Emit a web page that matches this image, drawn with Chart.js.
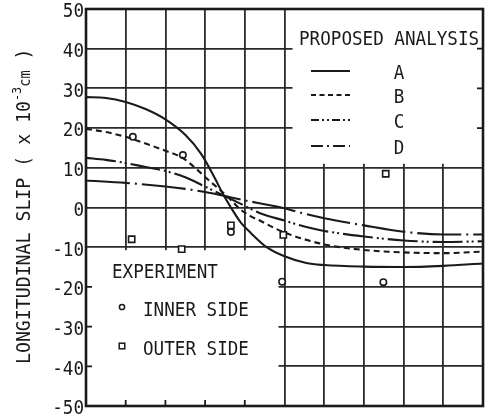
<!DOCTYPE html>
<html>
<head>
<meta charset="utf-8">
<script src="https://cdn.jsdelivr.net/npm/chart.js@4/dist/chart.umd.min.js"></script>
<style>
  html, body { margin: 0; padding: 0; background: #fff; }
  #wrap { width: 494px; height: 419px; }
</style>
</head>
<body>
<div id="wrap"><canvas id="c" width="494" height="419"></canvas></div>
<script>
// Longitudinal slip along the member: proposed analyses A-D and test results
const yTicks = ['50', '40', '30', '20', '10', '0', '-10', '-20', '-30', '-40', '-50'];
const xDivisions = [0, 1, 2, 3, 4, 5, 6, 7, 8, 9, 10];

const curveA = [[0,27.8],[0.5,27.6],[1,26.6],[1.5,24.8],[2,22.2],[2.5,18.3],[2.9,13.5],[3.25,7.3],[3.45,3.4],[3.65,0],[3.9,-3.8],[4.15,-6.4],[4.55,-10],[5,-12.3],[5.55,-14],[6,-14.5],[7,-14.9],[8,-15],[9,-14.7],[10,-14.1]];
const curveB = [[0,19.8],[0.5,19],[1,17.8],[1.5,16.1],[2,14.3],[2.45,12.4],[2.7,10.4],[3.1,6.8],[3.38,4.4],[3.6,2.4],[3.88,-0.4],[4.13,-2.1],[4.4,-3.4],[4.65,-4.7],[5,-6.3],[5.5,-8],[6,-9.3],[7,-10.7],[8,-11.3],[9,-11.5],[10,-11.1]];
const curveC = [[0,12.5],[0.5,12],[1,11.2],[1.5,10.2],[2,9.2],[2.5,7.6],[2.95,5.5],[3.2,4.3],[3.55,2.6],[3.9,0.9],[4.4,-1.5],[5,-3.3],[5.5,-4.8],[6,-5.9],[7,-7.3],[8,-8.3],[9,-8.7],[10,-8.5]];
const curveD = [[0,6.8],[1,6.2],[2,5.3],[2.5,4.7],[3,3.9],[3.5,2.9],[4,1.8],[4.5,0.8],[5,-0.2],[5.4,-1.3],[6,-2.7],[7,-4.5],[8,-6.1],[9,-6.8],[10,-6.8]];

const innerSide = [[1.18,17.8],[2.44,13.2],[3.65,-6.2],[4.94,-18.7],[7.49,-18.8]];
const outerSide = [[1.15,-8.0],[2.41,-10.5],[3.65,-4.5],[4.97,-6.9],[7.55,8.5]];

const analysisNames = ['A', 'B', 'C', 'D'];
const INK = '#1a1a1a';
const FONT = "'DejaVu Sans Mono', 'Liberation Mono', monospace";
const SX = 0.88; // horizontal condensing of the lettering

const toPts = arr => arr.map(p => ({ x: p[0], y: p[1] }));

const dashes = {
  A: [],
  B: [6, 4],
  C: [30, 4, 2, 3, 2, 4],
  D: [44, 5, 2, 5]
};
const legendDashes = {
  A: [],
  B: [5, 3.5],
  C: [8, 3, 2, 3, 2, 3],
  D: [12, 4, 2, 4]
};

function curveSet(label, data) {
  return {
    label: label,
    data: toPts(data),
    showLine: true,
    borderColor: INK,
    borderWidth: 2.1,
    borderDash: dashes[label],
    pointRadius: 0,
    cubicInterpolationMode: 'monotone',
    fill: false
  };
}

function text(ctx, str, x, y, size, align) {
  ctx.save();
  ctx.translate(x, y);
  ctx.scale(SX, 1);
  ctx.font = size + 'px ' + FONT;
  ctx.textAlign = align || 'left';
  ctx.textBaseline = 'alphabetic';
  ctx.fillStyle = INK;
  ctx.fillText(str, 0, size * 0.365);
  ctx.restore();
}

const decor = {
  id: 'decor',
  beforeDatasetsDraw(chart) {
    const { ctx, chartArea: a, scales } = chart;
    const xs = scales.x, ys = scales.y;
    ctx.save();
    ctx.fillStyle = '#fff';
    // clear grid behind the analysis key (upper right)
    const x5 = xs.getPixelForValue(5);
    const y10 = ys.getPixelForValue(10);
    ctx.fillRect(x5 + 8, a.top + 1, a.right - x5 - 9, y10 - 4 - a.top - 1);
    // clear grid behind the experiment key (lower left)
    const ym10 = ys.getPixelForValue(-10);
    ctx.fillRect(a.left + 1, ym10 + 3, x5 - 6 - a.left - 1, a.bottom - ym10 - 4);

    ctx.strokeStyle = INK;
    ctx.lineWidth = 1.8;
    ctx.beginPath();
    // short ticks on the cleared edges
    [20, 30, 40].forEach(v => {
      const y = ys.getPixelForValue(v);
      ctx.moveTo(a.right, y); ctx.lineTo(a.right - 6, y);
    });
    [-20, -30, -40].forEach(v => {
      const y = ys.getPixelForValue(v);
      ctx.moveTo(a.left, y); ctx.lineTo(a.left + 6, y);
    });
    [1, 2, 3, 4].forEach(v => {
      const x = xs.getPixelForValue(v);
      ctx.moveTo(x, a.bottom); ctx.lineTo(x, a.bottom - 6);
    });
    ctx.stroke();

    // frame
    ctx.lineWidth = 2.6;
    ctx.strokeRect(a.left, a.top, a.right - a.left, a.bottom - a.top);
    ctx.restore();
  },
  afterDraw(chart) {
    const { ctx, chartArea: a, scales } = chart;
    const ys = scales.y;

    // y tick labels
    yTicks.forEach(t => {
      text(ctx, t, a.left - 2, ys.getPixelForValue(Number(t)) + 1, 20, 'right');
    });

    // y axis title, rotated, with superscript exponent
    ctx.save();
    ctx.translate(30, 364);
    ctx.rotate(-Math.PI / 2);
    ctx.scale(0.91, 1);
    ctx.fillStyle = INK;
    ctx.textBaseline = 'alphabetic';
    ctx.textAlign = 'left';
    let pos = 0;
    const part = (s, size, rise) => {
      ctx.font = size + 'px ' + FONT;
      ctx.fillText(s, pos, -rise);
      pos += ctx.measureText(s).width;
    };
    part('LONGITUDINAL SLIP ( x 10', 20, 0);
    part('-3', 13, 9);
    part('cm', 15, 0);
    part(' )', 20, 0);
    ctx.restore();

    // analysis key
    text(ctx, 'PROPOSED ANALYSIS', 299, 37.5, 20, 'left');
    const keyY = [71, 95, 120, 146];
    analysisNames.forEach((n, i) => {
      ctx.save();
      ctx.strokeStyle = INK;
      ctx.lineWidth = 2;
      ctx.setLineDash(legendDashes[n]);
      ctx.beginPath();
      ctx.moveTo(311, keyY[i]);
      ctx.lineTo(350, keyY[i]);
      ctx.stroke();
      ctx.restore();
      text(ctx, n, 399, keyY[i] + 1, 20, 'center');
    });

    // experiment key
    text(ctx, 'EXPERIMENT', 112, 271, 20, 'left');
    ctx.save();
    ctx.strokeStyle = INK;
    ctx.lineWidth = 1.5;
    ctx.fillStyle = '#fff';
    ctx.beginPath();
    ctx.arc(122, 307, 2.6, 0, Math.PI * 2);
    ctx.fill(); ctx.stroke();
    ctx.fillRect(119.2, 343.2, 5.6, 5.6);
    ctx.strokeRect(119.2, 343.2, 5.6, 5.6);
    ctx.restore();
    text(ctx, 'INNER SIDE', 143, 309, 20, 'left');
    text(ctx, 'OUTER SIDE', 143, 348, 20, 'left');
  }
};

const chart = new Chart(document.getElementById('c'), {
  type: 'scatter',
  data: {
    datasets: [
      curveSet('A', curveA),
      curveSet('B', curveB),
      curveSet('C', curveC),
      curveSet('D', curveD),
      {
        label: 'INNER SIDE',
        data: toPts(innerSide),
        pointStyle: 'circle',
        pointRadius: 3.2,
        pointBorderWidth: 1.6,
        pointBackgroundColor: '#fff',
        pointBorderColor: INK,
        showLine: false
      },
      {
        label: 'OUTER SIDE',
        data: toPts(outerSide),
        pointStyle: 'rect',
        pointRadius: 4.4,
        pointBorderWidth: 1.6,
        pointBackgroundColor: '#fff',
        pointBorderColor: INK,
        showLine: false
      }
    ]
  },
  options: {
    responsive: false,
    animation: false,
    events: [],
    layout: { padding: { left: 86, right: 11, top: 9, bottom: 13 } },
    plugins: { legend: { display: false }, tooltip: { enabled: false } },
    scales: {
      x: {
        type: 'linear',
        min: xDivisions[0],
        max: xDivisions[xDivisions.length - 1],
        ticks: { display: false, stepSize: 1 },
        grid: { color: '#2a2a2a', lineWidth: 1.8, drawTicks: false },
        border: { display: false }
      },
      y: {
        type: 'linear',
        min: Number(yTicks[yTicks.length - 1]),
        max: Number(yTicks[0]),
        ticks: { display: false, stepSize: 10 },
        grid: { color: '#2a2a2a', lineWidth: 1.8, drawTicks: false },
        border: { display: false }
      }
    }
  },
  plugins: [decor]
});
</script>
</body>
</html>
